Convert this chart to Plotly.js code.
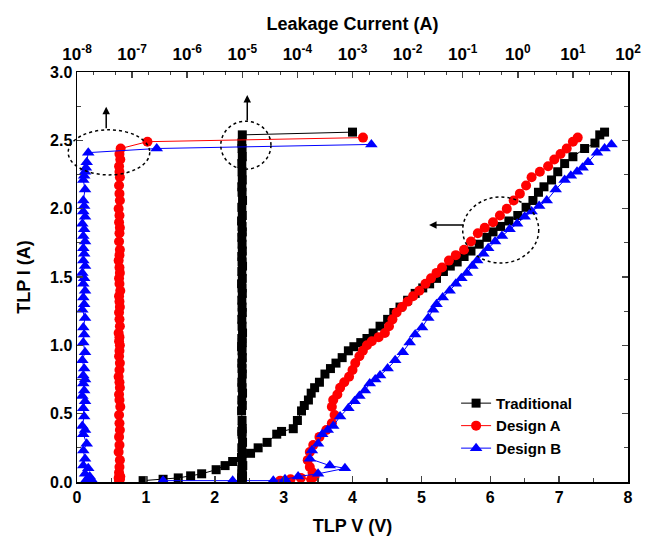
<!DOCTYPE html>
<html>
<head>
<meta charset="utf-8">
<script src="https://cdn.plot.ly/plotly-3.0.1.min.js"></script>
<style>html,body{margin:0;padding:0;background:#fff;}#chart{width:657px;height:546px;}</style>
</head>
<body>
<div id="chart"></div>
<script>
// ---- Traditional ----
const tradV = [0.96,1.25,1.47,1.65,1.81,2.02,2.15,2.26,2.39,2.52,2.63,2.76,2.90,2.97,3.14,3.20,3.26,3.30,3.36,3.40,3.45,3.52,3.60,3.68,3.76,3.85,3.94,4.02,4.12,4.21,4.30,4.40,4.51,4.60,4.69,4.80,4.91,5.02,5.12,5.22,5.32,5.42,5.52,5.62,5.72,5.84,5.95,6.04,6.15,6.27,6.40,6.52,6.62,6.70,6.78,6.89,6.98,7.08,7.20,7.37,7.52,7.59,7.66];
const tradI = [0.01,0.02,0.03,0.045,0.06,0.09,0.12,0.15,0.18,0.21,0.25,0.29,0.35,0.37,0.39,0.45,0.52,0.56,0.60,0.65,0.69,0.73,0.79,0.83,0.87,0.91,0.96,0.99,1.02,1.05,1.09,1.14,1.19,1.24,1.28,1.33,1.38,1.42,1.45,1.49,1.54,1.58,1.61,1.65,1.69,1.74,1.79,1.83,1.87,1.91,1.95,2.01,2.06,2.12,2.16,2.21,2.27,2.33,2.38,2.44,2.48,2.54,2.56];
const tradLeak = [9.8e-6,1.0e-5,9.7e-6,1.01e-5,9.9e-6,9.8e-6,1.02e-5,9.9e-6,9.7e-6,1.0e-5,9.8e-6,1.01e-5,9.9e-6,9.8e-6,1.0e-5,9.9e-6,9.7e-6,1.0e-5,9.8e-6,1.01e-5,9.9e-6,9.8e-6,1.0e-5,9.9e-6,9.8e-6,1.0e-5,9.9e-6,9.7e-6,1.0e-5,9.8e-6,1.01e-5,9.9e-6,9.8e-6,1.0e-5,9.9e-6,9.8e-6,1.0e-5,9.9e-6,9.7e-6,1.0e-5,9.8e-6,1.01e-5,9.9e-6,9.8e-6,1.0e-5,9.9e-6,9.8e-6,1.0e-5,9.9e-6,9.7e-6,1.0e-5,9.8e-6,1.01e-5,9.9e-6,9.8e-6,1.0e-5,9.9e-6,9.8e-6,1.0e-5,9.9e-6,9.8e-6,1.0e-5,1.0e-3];

// ---- Design A ----
const aV = [2.95,3.10,3.25,3.40,3.45,3.42,3.38,3.35,3.38,3.43,3.52,3.62,3.70,3.74,3.70,3.72,3.78,3.82,3.88,3.95,4.00,4.04,4.10,4.15,4.21,4.28,4.38,4.47,4.53,4.58,4.64,4.72,4.80,4.88,4.97,5.06,5.14,5.22,5.30,5.40,5.50,5.62,5.72,5.82,5.92,6.04,6.14,6.24,6.34,6.43,6.52,6.60,6.72,6.84,6.93,7.02,7.11,7.20,7.27];
const aI = [0.01,0.02,0.03,0.02,0.04,0.07,0.11,0.16,0.22,0.27,0.33,0.38,0.43,0.49,0.55,0.60,0.64,0.69,0.73,0.77,0.82,0.87,0.92,0.96,1.00,1.03,1.06,1.09,1.14,1.19,1.24,1.28,1.32,1.36,1.40,1.45,1.49,1.53,1.57,1.62,1.66,1.70,1.76,1.82,1.86,1.90,1.95,2.00,2.06,2.11,2.17,2.23,2.27,2.31,2.36,2.40,2.44,2.49,2.52];
const aLeak = [5.8e-8,6.0e-8,5.7e-8,5.9e-8,6.1e-8,5.8e-8,5.9e-8,6.0e-8,5.7e-8,5.9e-8,5.8e-8,6.0e-8,5.9e-8,5.8e-8,6.1e-8,5.9e-8,5.8e-8,6.0e-8,5.9e-8,5.7e-8,5.9e-8,6.0e-8,5.8e-8,5.9e-8,6.0e-8,5.8e-8,5.9e-8,5.7e-8,6.0e-8,5.9e-8,5.8e-8,6.0e-8,5.9e-8,5.8e-8,6.1e-8,5.9e-8,5.8e-8,6.0e-8,5.9e-8,5.7e-8,5.9e-8,6.0e-8,5.8e-8,5.9e-8,6.0e-8,5.8e-8,5.9e-8,5.7e-8,6.0e-8,5.9e-8,5.8e-8,6.0e-8,5.9e-8,5.8e-8,6.1e-8,5.9e-8,6.2e-8,1.9e-7,1.55e-3];

// ---- Design B ----
const bV = [1.25,2.26,2.85,3.02,3.21,3.50,3.89,3.67,3.38,3.41,3.50,3.56,3.64,3.72,3.82,3.94,4.03,4.10,4.18,4.25,4.33,4.40,4.51,4.62,4.73,4.83,4.91,5.01,5.10,5.17,5.22,5.31,5.41,5.50,5.58,5.66,5.74,5.81,5.90,5.97,6.07,6.17,6.28,6.39,6.50,6.60,6.71,6.82,6.95,7.08,7.17,7.26,7.34,7.42,7.55,7.66,7.76];
const bI = [0.01,0.01,0.01,0.02,0.04,0.06,0.10,0.12,0.17,0.23,0.28,0.35,0.38,0.41,0.48,0.54,0.59,0.63,0.67,0.72,0.75,0.78,0.83,0.89,0.95,1.02,1.08,1.13,1.20,1.26,1.30,1.35,1.40,1.45,1.49,1.53,1.58,1.62,1.67,1.71,1.76,1.80,1.85,1.89,1.94,1.98,2.02,2.06,2.14,2.21,2.24,2.27,2.30,2.34,2.41,2.44,2.47];
const bLeak = [1.9e-8,1.6e-8,1.8e-8,1.5e-8,1.7e-8,1.4e-8,1.6e-8,1.3e-8,1.4e-8,1.3e-8,1.5e-8,1.3e-8,1.4e-8,1.25e-8,1.35e-8,1.3e-8,1.4e-8,1.25e-8,1.35e-8,1.3e-8,1.4e-8,1.3e-8,1.35e-8,1.25e-8,1.4e-8,1.3e-8,1.35e-8,1.3e-8,1.4e-8,1.25e-8,1.35e-8,1.3e-8,1.4e-8,1.3e-8,1.35e-8,1.25e-8,1.4e-8,1.3e-8,1.35e-8,1.3e-8,1.4e-8,1.3e-8,1.35e-8,1.25e-8,1.4e-8,1.3e-8,1.35e-8,1.3e-8,1.4e-8,1.3e-8,1.35e-8,1.4e-8,1.45e-8,1.5e-8,1.6e-8,2.8e-7,2.2e-3];

// ---- top axis ticks ----
const leakTickVals = [1e-8,1e-7,1e-6,1e-5,1e-4,1e-3,1e-2,1e-1,1e0,1e1,1e2];
const leakTickText = ['10<sup>-8</sup>','10<sup>-7</sup>','10<sup>-6</sup>','10<sup>-5</sup>','10<sup>-4</sup>','10<sup>-3</sup>','10<sup>-2</sup>','10<sup>-1</sup>','10<sup>0</sup>','10<sup>1</sup>','10<sup>2</sup>'];

const names = ['Traditional','Design A','Design B'];
const colors = ['#000000','#ff0000','#0000ff'];
const symbols = ['square','circle','triangle-up'];
const sizes = [9,10,11];

const ivSets = [[tradV,tradI],[aV,aI],[bV,bI]];
const leakSets = [[tradLeak,tradI],[aLeak,aI],[bLeak,bI]];

const traces = [];
for (let k=0;k<3;k++){
  traces.push({
    x: leakSets[k][0], y: leakSets[k][1], xaxis:'x2', yaxis:'y',
    type:'scatter', mode:'lines+markers', showlegend:false,
    line:{color:colors[k], width:1},
    marker:{symbol:symbols[k], size:sizes[k], color:colors[k]}
  });
}
for (let k=0;k<3;k++){
  traces.push({
    x: ivSets[k][0], y: ivSets[k][1], xaxis:'x', yaxis:'y', name:names[k],
    type:'scatter', mode:'lines+markers',
    line:{color:colors[k], width:1},
    marker:{symbol:symbols[k], size:sizes[k], color:colors[k]}
  });
}

const F = 'Liberation Sans, Arial, sans-serif';
const layout = {
  width:657, height:546,
  margin:{l:77, r:29, t:72, b:64},
  paper_bgcolor:'#fff', plot_bgcolor:'#fff',
  font:{family:F, color:'#000'},
  showlegend:true,
  legend:{x:0.688, y:0.232, xanchor:'left', yanchor:'top', bgcolor:'rgba(0,0,0,0)',
          font:{family:F, size:15, weight:'bold', color:'#000'}, tracegroupgap:0},
  xaxis:{range:[0,8], dtick:1, ticks:'inside', ticklen:6, tickwidth:1.5,
         minor:{ticks:'inside', dtick:0.5, ticklen:4, tickwidth:1.2},
         showline:true, linewidth:1.5, linecolor:'#000', showgrid:false, zeroline:false,
         tickfont:{family:F, size:16, weight:'bold'},
         title:{text:'TLP V (V)', font:{family:F, size:18, weight:'bold'}, standoff:14}},
  xaxis2:{type:'log', range:[-8,2], overlaying:'x', side:'top', anchor:'y',
          tickmode:'array', tickvals:leakTickVals, ticktext:leakTickText,
          ticks:'inside', ticklen:6, tickwidth:1.5, ticklabelstandoff:4,
          minor:{ticks:'inside', ticklen:3, tickwidth:1},
          showline:true, linewidth:1.5, linecolor:'#000', showgrid:false, zeroline:false,
          tickfont:{family:F, size:17, weight:'bold'},
          title:{text:'Leakage Current (A)', font:{family:F, size:18, weight:'bold'}, standoff:6}},
  yaxis:{range:[0,3], dtick:0.5, tickformat:'.1f', ticks:'inside', ticklen:6, tickwidth:1.5,
         minor:{ticks:'inside', dtick:0.25, ticklen:4, tickwidth:1.2},
         showline:true, linewidth:1.5, linecolor:'#000', mirror:'ticks',
         showgrid:false, zeroline:false,
         tickfont:{family:F, size:16, weight:'bold'},
         title:{text:'TLP I (A)', font:{family:F, size:18, weight:'bold'}, standoff:14}},
  shapes:[
    {type:'circle', xref:'paper', yref:'paper', x0:-0.016, x1:0.132, y0:0.749, y1:0.859,
     line:{color:'#000', width:1.5, dash:'dot'}},
    {type:'circle', xref:'paper', yref:'paper', x0:0.261, x1:0.352, y0:0.763, y1:0.880,
     line:{color:'#000', width:1.5, dash:'dot'}},
    {type:'circle', xref:'paper', yref:'paper', x0:0.70, x1:0.838, y0:0.534, y1:0.695,
     line:{color:'#000', width:1.5, dash:'dot'}}
  ],
  annotations:[
    {xref:'paper', yref:'paper', x:0.053, y:0.915, ax:0, ay:23, text:'', showarrow:true,
     arrowhead:2, arrowsize:1, arrowwidth:1.5, arrowcolor:'#000'},
    {xref:'paper', yref:'paper', x:0.309, y:0.944, ax:0, ay:27, text:'', showarrow:true,
     arrowhead:2, arrowsize:1, arrowwidth:1.5, arrowcolor:'#000'},
    {xref:'paper', yref:'paper', x:0.639, y:0.627, ax:36, ay:0, text:'', showarrow:true,
     arrowhead:2, arrowsize:1, arrowwidth:1.5, arrowcolor:'#000'}
  ]
};
Plotly.newPlot('chart', traces, layout, {displayModeBar:false, staticPlot:true});
</script>
</body>
</html>
